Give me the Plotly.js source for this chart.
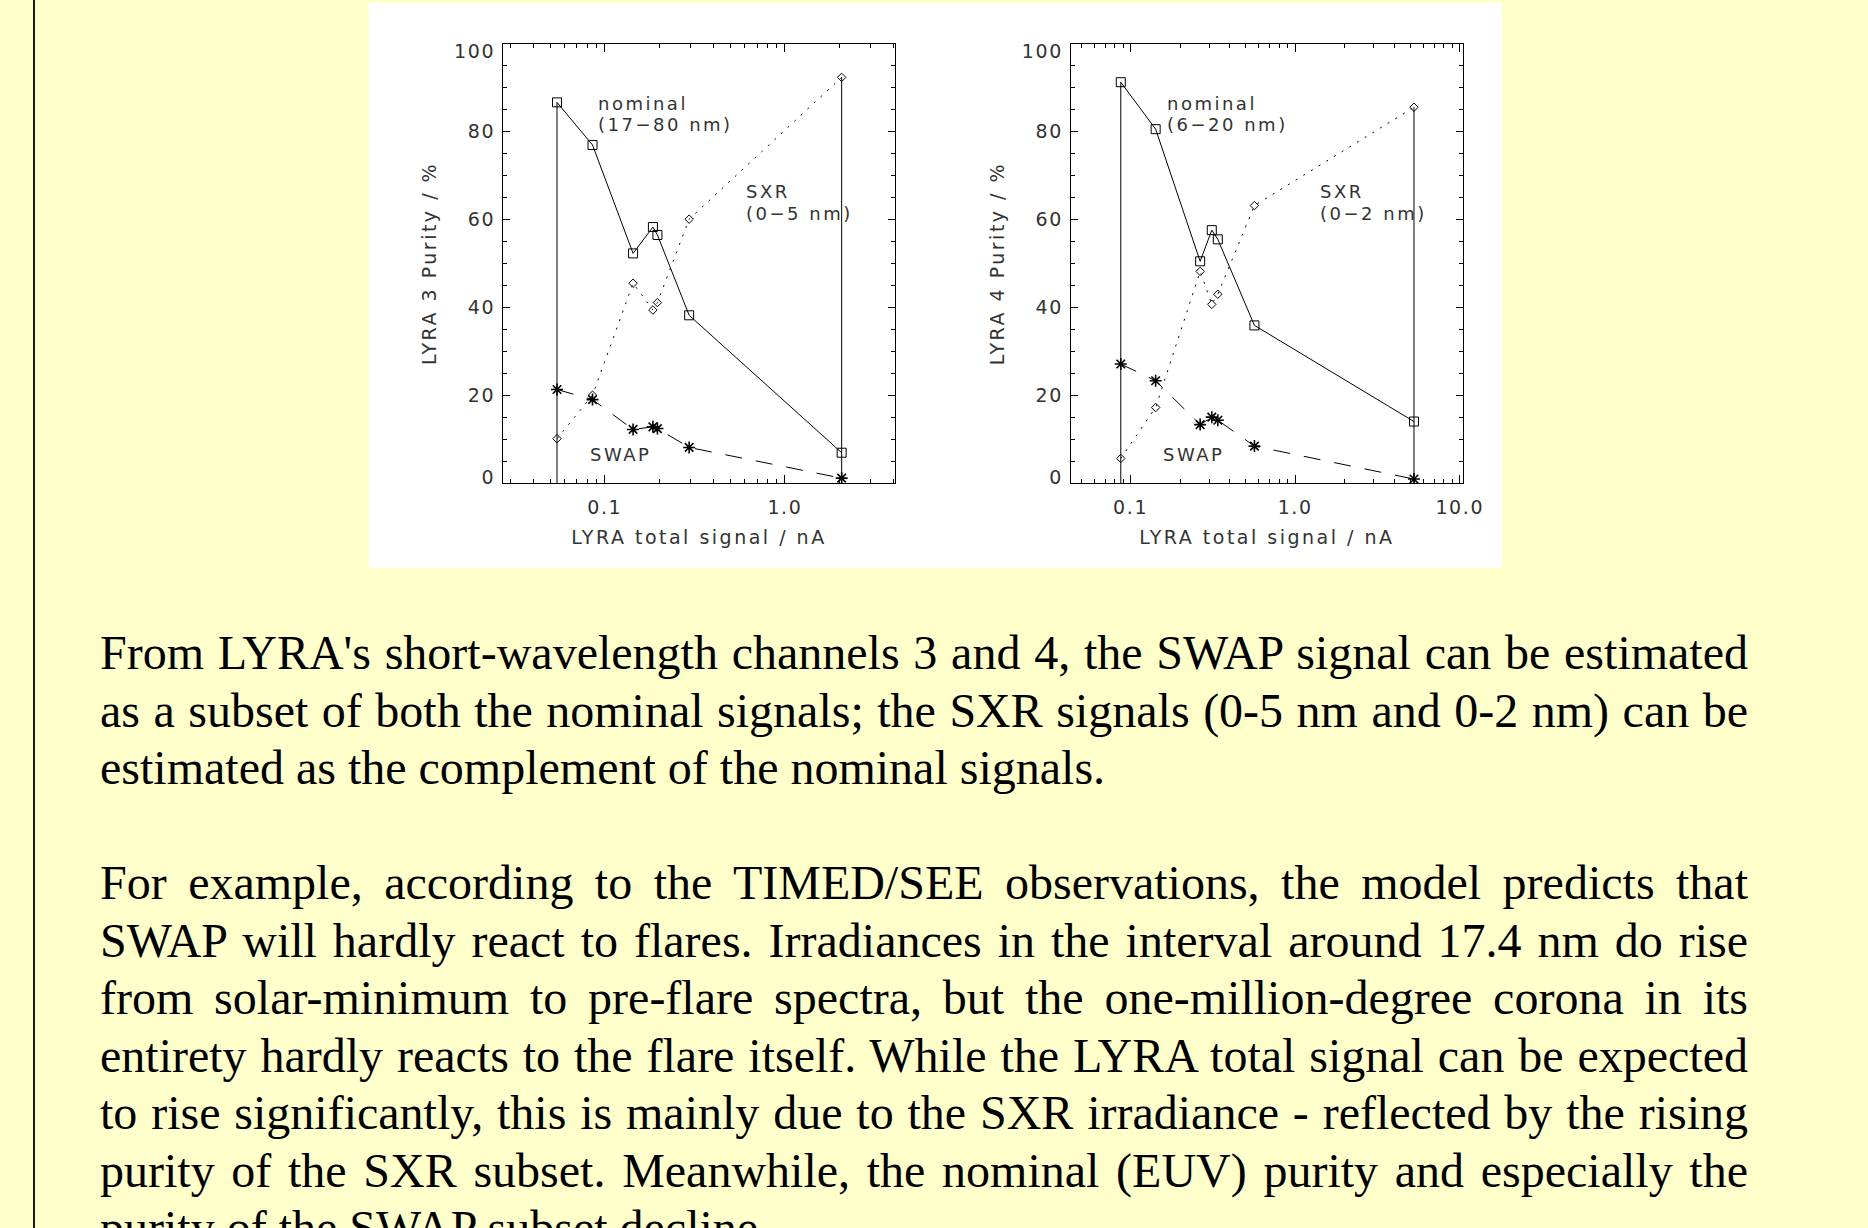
<!DOCTYPE html>
<html>
<head>
<meta charset="utf-8">
<script src="https://cdn.plot.ly/plotly-3.0.1.min.js"></script>
<style>
html,body{margin:0;padding:0;background:#ffffcc;width:1868px;height:1228px;overflow:hidden;}
#border{position:absolute;left:33px;top:0;width:2px;height:1228px;background:#1a1a1a;}
#chart{position:absolute;left:369px;top:3px;width:1133px;height:565px;background:#ffffff;}
#text{position:absolute;left:100px;top:624px;width:1648px;font-family:"Liberation Serif","Times New Roman",serif;font-size:48px;color:#000;}
.ln{height:57.5px;line-height:57.5px;text-align:justify;text-align-last:justify;white-space:nowrap;overflow:visible;}
.ln.last{text-align:left;text-align-last:left;}
.gap{height:57.5px;}
.xtitle,.x2title,.ytitle,.y2title,.annotation-text{letter-spacing:2.5px;}
.xtick text,.x2tick text,.ytick text,.y2tick text{letter-spacing:1.6px;}
#chart g.ytick:first-of-type,#chart g.y2tick:first-of-type{transform:translateY(-6px);}
#chart g.ytick:last-of-type,#chart g.y2tick:last-of-type{transform:translateY(7px);}
</style>
</head>
<body>
<div id="border"></div>
<div id="chart"></div>
<div id="text">
  <div class="ln">From LYRA's short-wavelength channels 3 and 4, the SWAP signal can be estimated</div>
  <div class="ln">as a subset of both the nominal signals; the SXR signals (0-5 nm and 0-2 nm) can be</div>
  <div class="ln last">estimated as the complement of the nominal signals.</div>
  <div class="gap"></div>
  <div class="ln">For example, according to the TIMED/SEE observations, the model predicts that</div>
  <div class="ln">SWAP will hardly react to flares. Irradiances in the interval around 17.4 nm do rise</div>
  <div class="ln">from solar-minimum to pre-flare spectra, but the one-million-degree corona in its</div>
  <div class="ln">entirety hardly reacts to the flare itself. While the LYRA total signal can be expected</div>
  <div class="ln">to rise significantly, this is mainly due to the SXR irradiance - reflected by the rising</div>
  <div class="ln">purity of the SXR subset. Meanwhile, the nominal (EUV) purity and especially the</div>
  <div class="ln last">purity of the SWAP subset decline.</div>
</div>
<script>
// ---- LYRA channel 3 (left panel) ----
const signal3   = [0.0543, 0.0855, 0.1436, 0.185, 0.196, 0.294, 2.065];
const nominal3  = [86.7, 77.0, 52.3, 58.3, 56.5, 38.2, 6.9];
const sxr3      = [10.1, 20.0, 45.5, 39.4, 41.1, 60.1, 92.4];
const swap3     = [21.3, 19.0, 12.2, 12.8, 12.4, 8.1, 1.1];

// ---- LYRA channel 4 (right panel) ----
const signal4   = [0.0872, 0.142, 0.2646, 0.3114, 0.3388, 0.5655, 5.27];
const nominal4  = [91.3, 80.6, 50.5, 57.6, 55.5, 35.9, 14.0];
const sxr4      = [5.6, 17.2, 48.2, 40.7, 43.0, 63.2, 85.6];
const swap4     = [27.1, 23.3, 13.3, 15.0, 14.3, 8.4, 0.9];

// ---- labels ----
const labels3 = ['nominal', '(17\u221280 nm)', 'SXR', '(0\u22125 nm)', 'SWAP'];
const labels4 = ['nominal', '(6\u221220 nm)', 'SXR', '(0\u22122 nm)', 'SWAP'];
const labelX3 = [0.0903, 0.0903, 0.5995, 0.5995, 0.0815];
const labelY3 = [86.5, 81.6, 66.3, 61.4, 6.5];
const labelX4 = [0.1637, 0.1637, 1.405, 1.405, 0.1549];
const labelY4 = [86.5, 81.6, 66.3, 61.4, 6.5];

const xTickVals = [0.1, 1, 10];
const xTickText = ['0.1', '1.0', '10.0'];
const yTickVals = [0, 20, 40, 60, 80, 100];
const yTickText = ['0', '20', '40', '60', '80', '100'];
const yTitles = ['LYRA 3 Purity / %', 'LYRA 4 Purity / %'];
const xTitle = 'LYRA total signal / nA';

const INK = '#000000';
const TXT = '#333333';
const FONT = 'DejaVu Sans, Liberation Sans, sans-serif';

function panelTraces(sig, nom, sxr, swp, xa, ya) {
  const n = sig.length - 1;
  const vline = (i) => ({
    x: [sig[i], sig[i]], y: [0, Math.max(nom[i], sxr[i])],
    xaxis: xa, yaxis: ya, mode: 'lines', hoverinfo: 'skip', showlegend: false,
    line: {color: INK, width: 1}
  });
  return [
    vline(0), vline(n),
    {x: sig, y: nom, xaxis: xa, yaxis: ya, mode: 'lines+markers', name: 'nominal', showlegend: false,
     line: {color: INK, width: 1},
     marker: {symbol: 'square-open', size: 9, color: INK, line: {color: INK, width: 1}}},
    {x: sig, y: sxr, xaxis: xa, yaxis: ya, mode: 'lines+markers', name: 'SXR', showlegend: false,
     line: {color: INK, width: 1, dash: '2px,7px'},
     marker: {symbol: 'diamond-open', size: 6.5, color: INK, line: {color: INK, width: 1}}},
    {x: sig, y: swp, xaxis: xa, yaxis: ya, mode: 'lines+markers', name: 'SWAP', showlegend: false,
     line: {color: INK, width: 1, dash: '17px,14px'},
     marker: {symbol: 'asterisk-open', size: 10, color: INK, line: {color: INK, width: 1.6}}}
  ];
}

const data = [].concat(
  panelTraces(signal3, nominal3, sxr3, swap3, 'x', 'y'),
  panelTraces(signal4, nominal4, sxr4, swap4, 'x2', 'y2')
);

function xAxis(domain, range, anchor) {
  return {
    domain: domain, anchor: anchor, type: 'log', range: range,
    tickmode: 'array', tickvals: xTickVals, ticktext: xTickText,
    ticks: 'inside', ticklen: 8, tickwidth: 1, tickcolor: INK,
    minor: {ticks: 'inside', ticklen: 4, tickwidth: 1, tickcolor: INK, dtick: 'D1', showgrid: false},
    showline: true, linecolor: INK, linewidth: 1, mirror: 'ticks',
    showgrid: false, zeroline: false,
    tickfont: {family: FONT, size: 19, color: TXT},
    ticklabelstandoff: 7,
    title: {text: xTitle, font: {family: FONT, size: 19, color: TXT}, standoff: 13},
    automargin: false
  };
}
function yAxis(title, anchor) {
  return {
    domain: [0, 1], anchor: anchor, range: [0, 100],
    tickmode: 'array', tickvals: yTickVals, ticktext: yTickText,
    ticks: 'inside', ticklen: 7, tickwidth: 1, tickcolor: INK,
    minor: {ticks: 'inside', ticklen: 4, tickwidth: 1, tickcolor: INK, dtick: 5, tick0: 0, showgrid: false},
    showline: true, linecolor: INK, linewidth: 1, mirror: 'ticks',
    showgrid: false, zeroline: false,
    tickfont: {family: FONT, size: 19, color: TXT},
    ticklabelstandoff: 3,
    title: {text: title, font: {family: FONT, size: 19, color: TXT}, standoff: 12},
    automargin: false
  };
}

function annots(texts, xs, ys, xref, yref) {
  return texts.map((t, i) => ({
    text: t, x: Math.log10(xs[i]), y: ys[i], xref: xref, yref: yref,
    xanchor: 'left', yanchor: 'middle', align: 'left', showarrow: false, borderpad: 0,
    font: {family: FONT, size: 18, color: TXT}
  }));
}

const layout = {
  width: 1133, height: 565,
  margin: {l: 134, r: 39, t: 41, b: 85, pad: 0},
  paper_bgcolor: '#ffffff', plot_bgcolor: '#ffffff',
  font: {family: FONT, size: 18, color: TXT},
  showlegend: false,
  xaxis: xAxis([0, 0.40833], [-1.565, 0.611], 'y'),
  yaxis: yAxis(yTitles[0], 'x'),
  xaxis2: xAxis([0.5914, 1.0], [-1.3635, 1.0195], 'y2'),
  yaxis2: yAxis(yTitles[1], 'x2'),
  annotations: [].concat(
    annots(labels3, labelX3, labelY3, 'x', 'y'),
    annots(labels4, labelX4, labelY4, 'x2', 'y2')
  )
};

Plotly.newPlot('chart', data, layout, {staticPlot: true, displayModeBar: false});
</script>
</body>
</html>
